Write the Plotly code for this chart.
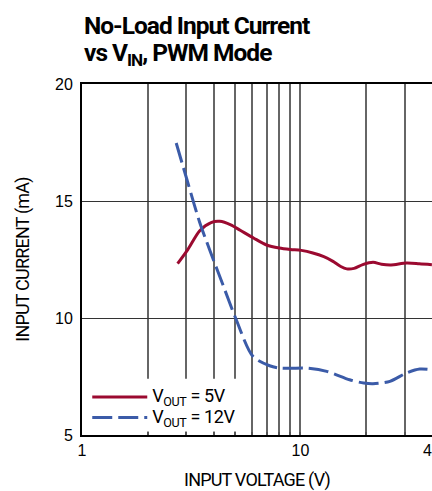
import plotly.graph_objects as go

# ---- data ----
vin_5v = [2.74, 3.05, 3.46, 3.9, 4.27, 4.8, 5.3, 6.1, 7.0, 8.0, 9.0, 10.1, 11.4, 12.8,
          14.1, 15.3, 16.3, 17.6, 19.3, 21.5, 23.5, 26.0, 30.6, 35.0, 40.0]
iin_5v = [12.32, 12.92, 13.73, 14.08, 14.13, 13.98, 13.75, 13.42, 13.12, 12.99, 12.93, 12.89,
          12.78, 12.62, 12.42, 12.2, 12.1, 12.12, 12.28, 12.38, 12.3, 12.27, 12.35, 12.32, 12.28]

vin_12v = [2.70, 3.05, 3.46, 3.84, 4.4, 5.05, 6.06, 7.23, 8.04, 9.0, 10.66, 13.2, 16.8,
           19.5, 21.5, 25.7, 30.6, 35.2, 40.0]
iin_12v = [17.48, 15.79, 14.08, 12.92, 11.46, 10.0, 8.36, 7.96, 7.86, 7.85, 7.86, 7.72, 7.36,
           7.22, 7.19, 7.29, 7.65, 7.82, 7.79]

x_tickvals = [1, 2, 3, 4, 5, 6, 7, 8, 9, 10, 20, 30, 40]
x_ticktext = ["1", "", "", "", "", "", "", "", "", "10", "", "", "40"]
y_tickvals = [5, 10, 15, 20]

FONT = "Roboto, Liberation Sans, Arial, sans-serif"
REG = "Liberation Sans, Arial, sans-serif"


def tight(txt, ls, size=None):
    st = f"letter-spacing:{ls}px"
    if size:
        st += f";font-size:{size}px"
    return f'<span style="{st}">{txt}</span>'


fig = go.Figure()
fig.add_trace(go.Scatter(
    x=vin_5v, y=iin_5v, mode="lines",
    name=tight("V<sub>OUT</sub> = 5V", -0.4, 18),
    line=dict(color="#9b0a30", width=3, shape="spline", smoothing=0.8)))
fig.add_trace(go.Scatter(
    x=vin_12v, y=iin_12v, mode="lines",
    name=tight("V<sub>OUT</sub> = 12V", -0.4, 18),
    line=dict(color="#3b5ba8", width=3, shape="spline", smoothing=0.8, dash="20px,6px")))

fig.update_layout(
    width=432, height=491,
    margin=dict(l=82, r=0, t=84, b=56, autoexpand=False),
    plot_bgcolor="white", paper_bgcolor="white",
    showlegend=True,
    legend=dict(x=0.015, y=0.152, xanchor="left", yanchor="top",
                bgcolor="rgba(0,0,0,0)", font=dict(family=FONT, size=13.5, color="black"),
                itemwidth=55, tracegroupgap=0),
    font=dict(family=FONT, color="black"),
    shapes=[dict(type="rect", xref="x domain", yref="y domain", x0=0.004, x1=0.47,
                 y0=0.01, y1=0.16, fillcolor="white", line=dict(width=0), layer="above")],
    annotations=[
        dict(text="<b>" + tight("No-Load Input Current", -1) + "</b>", xref="paper", yref="paper",
             x=0, y=1.168, xanchor="left", yanchor="middle", showarrow=False,
             font=dict(family=FONT, size=24.5, color="black")),
        dict(text="<b>" + tight("vs V<sub>IN</sub>, PWM Mode", -1) + "</b>", xref="paper", yref="paper",
             x=0, y=1.085, xanchor="left", yanchor="middle", showarrow=False,
             font=dict(family=FONT, size=24.5, color="black")),
    ],
)

fig.update_xaxes(
    type="log", range=[0, 1.6025], tickmode="array", tickvals=x_tickvals, ticktext=x_ticktext,
    ticks="inside", ticklen=3, tickcolor="#555", tickwidth=1.5, ticklabeloverflow="allow",
    showgrid=True, gridcolor="#666", gridwidth=1.5,
    showline=True, linecolor="black", linewidth=2, mirror=True,
    tickfont=dict(family=REG, size=16), zeroline=False, automargin=False,
    title=dict(text=tight("INPUT VOLTAGE (V)", -0.8), font=dict(family=FONT, size=18), standoff=19),
)
fig.update_yaxes(
    range=[5, 20], tickmode="array", tickvals=y_tickvals,
    ticks="", showgrid=True, gridcolor="#333", gridwidth=1, ticklabelstandoff=4,
    showline=True, linecolor="black", linewidth=2, mirror=True,
    tickfont=dict(family=REG, size=16), zeroline=False, automargin=False,
    title=dict(text=tight("INPUT CURRENT (mA)", -0.8), font=dict(family=FONT, size=18), standoff=21),
)

fig.write_html("out.html", config={"displayModeBar": False},
               post_script="document.body.style.margin='0';document.body.style.overflow='hidden';")
